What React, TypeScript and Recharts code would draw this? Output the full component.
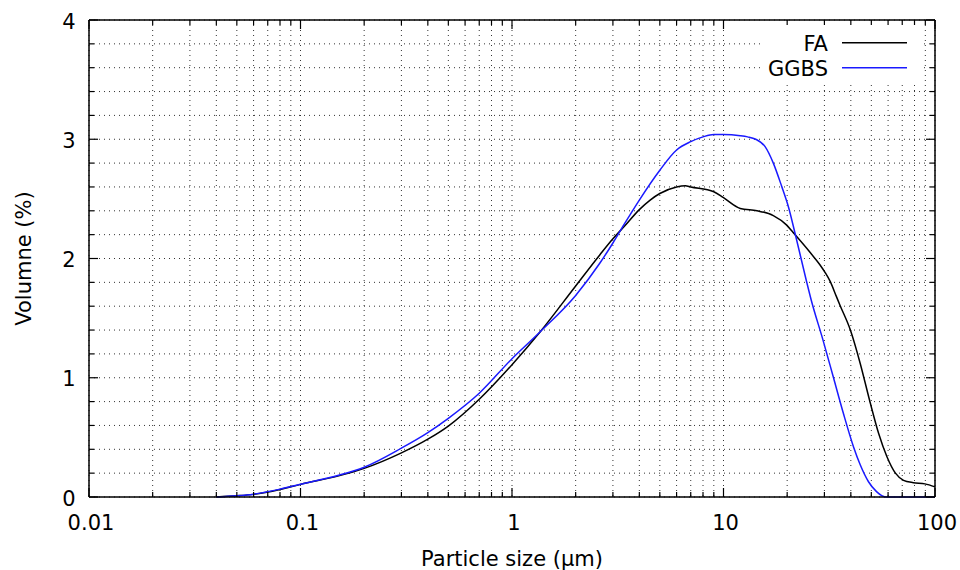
import React from 'react';
import { ComposedChart, Line, XAxis, YAxis, CartesianGrid, Legend } from 'recharts';

const FONT = '"DejaVu Sans", Verdana, sans-serif';

// Tick values
const xTicks = [
  0.01, 0.02, 0.03, 0.04, 0.05, 0.06, 0.07, 0.08, 0.09,
  0.1, 0.2, 0.3, 0.4, 0.5, 0.6, 0.7, 0.8, 0.9,
  1, 2, 3, 4, 5, 6, 7, 8, 9,
  10, 20, 30, 40, 50, 60, 70, 80, 90,
  100,
];
const yTicks = [0, 0.2, 0.4, 0.6, 0.8, 1, 1.2, 1.4, 1.6, 1.8, 2, 2.2, 2.4, 2.6, 2.8, 3, 3.2, 3.4, 3.6, 3.8, 4];
const xLabels = ['0.01', '0.1', '1', '10', '100'];
const yLabels = ['0', '1', '2', '3', '4'];

// FA series (particle size in µm, volume in %)
const faSizes = [
  0.04, 0.05, 0.06, 0.08, 0.1, 0.15, 0.2, 0.3, 0.4, 0.5, 0.7, 1.0, 1.36, 2.0, 2.6, 3.0, 3.4,
  4.0, 4.5, 5.0, 6.0, 6.6, 7.0, 9.0, 10.0, 12.0, 14.4, 17.2, 19.9, 21.3, 25.7, 28.5, 30.3,
  31.9, 34.2, 35.5, 39.8, 44.3, 49.4, 54.2, 59.2, 65, 71, 79, 89.6, 100,
];
const faVolume = [
  0, 0.01, 0.022, 0.063, 0.106, 0.175, 0.24, 0.37, 0.485, 0.595, 0.82, 1.11, 1.386, 1.77, 2.03, 2.165, 2.27,
  2.41, 2.49, 2.545, 2.6, 2.61, 2.6, 2.56, 2.51, 2.42, 2.4, 2.36, 2.28, 2.22, 2.05, 1.95, 1.88,
  1.81, 1.68, 1.61, 1.4, 1.12, 0.79, 0.53, 0.34, 0.2, 0.14, 0.12, 0.11, 0.085,
];

// GGBS series
const ggbsSizes = [
  0.04, 0.05, 0.06, 0.08, 0.1, 0.15, 0.2, 0.3, 0.4, 0.5, 0.7, 1.0, 1.36, 2.0, 2.6, 3.0, 3.4,
  4.0, 5.0, 6.0, 7.0, 8.0, 9.0, 10.0, 12.0, 13.0, 14.2, 15.7, 17.2, 18.8, 20.3, 21.8, 24.6,
  26.0, 29.5, 33.0, 36.9, 41.2, 44.3, 48.4, 52.9, 56, 59.2, 70, 85, 100,
];
const ggbsVolume = [
  0, 0.01, 0.024, 0.066, 0.107, 0.18, 0.25, 0.41, 0.54, 0.66, 0.87, 1.16, 1.386, 1.69, 1.96, 2.13, 2.29,
  2.49, 2.74, 2.91, 2.98, 3.02, 3.04, 3.04, 3.03, 3.02, 3.0, 2.94, 2.8, 2.61, 2.43, 2.21, 1.82,
  1.65, 1.32, 1.01, 0.7, 0.42, 0.27, 0.13, 0.045, 0.012, 0, 0, 0, 0,
];

const faData = faSizes.map((s, i) => ({ size: s, v: faVolume[i] }));
const ggbsData = ggbsSizes.map((s, i) => ({ size: s, v: ggbsVolume[i] }));

const isXMajor = (v: number) => xLabels.includes(String(v));
const isYMajor = (v: number) => yLabels.includes(String(v));

const TICK_W = 1.2;
const MAJOR = 9;
const MINOR = 5;

const BottomTick = (props: any) => {
  const { x, y, payload } = props;
  const v = payload.value;
  const major = isXMajor(v);
  return (
    <g>
      <line x1={x} x2={x} y1={y} y2={y - (major ? MAJOR : MINOR)} stroke="#000" strokeWidth={TICK_W} />
      {major && (
        <text x={x + 2} y={y + 33} textAnchor="middle" fontSize={21} fontFamily={FONT} fill="#000">
          {String(v)}
        </text>
      )}
    </g>
  );
};

const TopTick = (props: any) => {
  const { x, y, payload } = props;
  const major = isXMajor(payload.value);
  return <line x1={x} x2={x} y1={y} y2={y + (major ? MAJOR : MINOR)} stroke="#000" strokeWidth={TICK_W} />;
};

const LeftTick = (props: any) => {
  const { x, y, payload } = props;
  const v = payload.value;
  const major = isYMajor(v);
  return (
    <g>
      <line x1={x} x2={x + (major ? MAJOR : MINOR)} y1={y} y2={y} stroke="#000" strokeWidth={TICK_W} />
      {major && (
        <text x={x - 13.5} y={y + 8.5} textAnchor="end" fontSize={21} fontFamily={FONT} fill="#000">
          {String(v)}
        </text>
      )}
    </g>
  );
};

const RightTick = (props: any) => {
  const { x, y, payload } = props;
  const major = isYMajor(payload.value);
  return <line x1={x} x2={x - (major ? MAJOR : MINOR)} y1={y} y2={y} stroke="#000" strokeWidth={TICK_W} />;
};

const LegendBox = () => (
  <svg width={162} height={56} style={{ display: 'block' }}>
    <rect x={0} y={0} width={162} height={56} fill="#fff" />
    <text x={68} y={25.7} textAnchor="end" fontSize={21} fontFamily={FONT} fill="#000">FA</text>
    <line x1={82} x2={147} y1={17.7} y2={17.7} stroke="#000" strokeWidth={1.5} />
    <text x={68} y={51} textAnchor="end" fontSize={21} fontFamily={FONT} fill="#000">GGBS</text>
    <line x1={82} x2={147} y1={42.7} y2={42.7} stroke="#1a1aff" strokeWidth={1.5} />
  </svg>
);

const axisLine = { stroke: '#000', strokeWidth: 1.5 };

export default function App() {
  return (
    <div style={{ position: 'absolute', left: 0, top: 0, width: 960, height: 570, background: '#fff' }}>
      <ComposedChart width={960} height={570} margin={{ top: 0, right: 0, bottom: 0, left: 0 }}>
        <CartesianGrid
          xAxisId="bottom"
          yAxisId="left"
          horizontalValues={yTicks}
          verticalValues={xTicks}
          stroke="#333"
          strokeWidth={1}
          strokeDasharray="1 4"
        />
        <XAxis
          xAxisId="bottom"
          dataKey="size"
          type="number"
          scale="log"
          domain={[0.01, 100]}
          ticks={xTicks}
          interval={0}
          height={73}
          tickSize={0}
          tickMargin={0}
          tickLine={false}
          axisLine={axisLine}
          tick={<BottomTick />}
          label={{
            content: () => (
              <text x={512} y={565.5} textAnchor="middle" fontSize={21} fontFamily={FONT} fill="#000">
                Particle size (µm)
              </text>
            ),
          }}
        />
        <XAxis
          xAxisId="top"
          orientation="top"
          dataKey="size"
          type="number"
          scale="log"
          domain={[0.01, 100]}
          allowDataOverflow
          ticks={xTicks}
          interval={0}
          height={20}
          tickSize={0}
          tickMargin={0}
          tickLine={false}
          axisLine={axisLine}
          tick={<TopTick />}
        />
        <YAxis
          yAxisId="left"
          type="number"
          domain={[0, 4]}
          ticks={yTicks}
          interval={0}
          width={89}
          tickSize={0}
          tickMargin={0}
          tickLine={false}
          axisLine={axisLine}
          tick={<LeftTick />}
          label={{
            content: () => (
              <text
                x={30.7}
                y={258.5}
                transform="rotate(-90 30.7 258.5)"
                textAnchor="middle"
                fontSize={21}
                fontFamily={FONT}
                fill="#000"
              >
                Volumne (%)
              </text>
            ),
          }}
        />
        <YAxis
          yAxisId="right"
          orientation="right"
          type="number"
          domain={[0, 4]}
          allowDataOverflow
          ticks={yTicks}
          interval={0}
          width={25}
          tickSize={0}
          tickMargin={0}
          tickLine={false}
          axisLine={axisLine}
          tick={<RightTick />}
        />
        <Line
          xAxisId="bottom"
          yAxisId="left"
          data={faData}
          dataKey="v"
          type="monotone"
          stroke="#000"
          strokeWidth={1.5}
          dot={false}
          activeDot={false}
          isAnimationActive={false}
          name="FA"
        />
        <Line
          xAxisId="bottom"
          yAxisId="left"
          data={ggbsData}
          dataKey="v"
          type="monotone"
          stroke="#1a1aff"
          strokeWidth={1.5}
          dot={false}
          activeDot={false}
          isAnimationActive={false}
          name="GGBS"
        />
        <Legend
          layout="horizontal"
          verticalAlign="middle"
          align="center"
          wrapperStyle={{ position: 'absolute', left: 760, top: 25, width: 162, height: 56, margin: 0, padding: 0 }}
          content={() => <LegendBox />}
        />
      </ComposedChart>
    </div>
  );
}
